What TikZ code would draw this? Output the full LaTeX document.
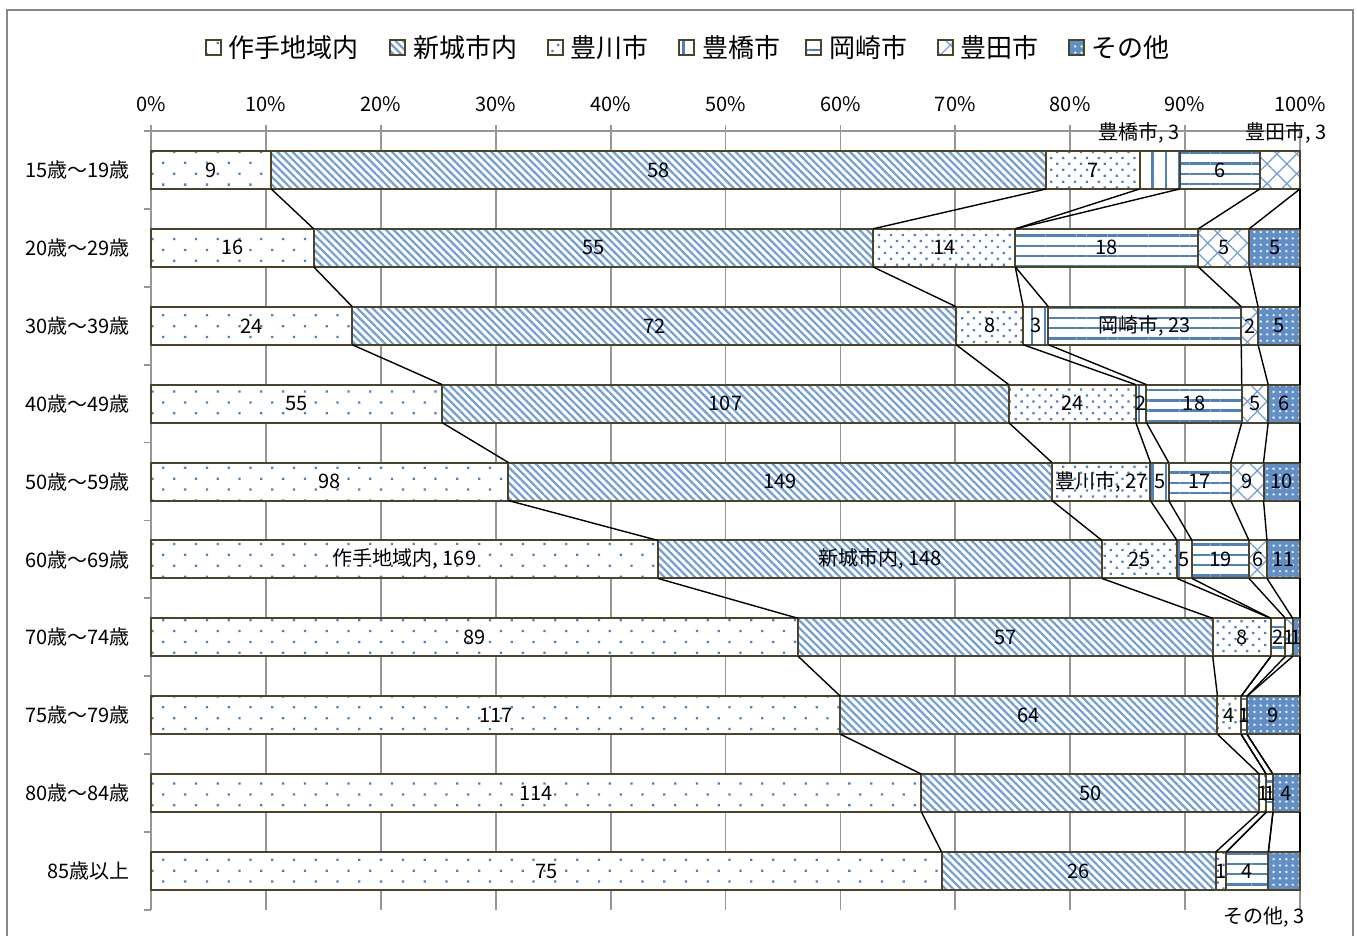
\documentclass[tikz,border=0pt]{standalone}
\usepackage{fontspec}
\setmainfont{Noto Sans CJK JP}
\usetikzlibrary{calc,patterns.meta,positioning}

\definecolor{barblue}{RGB}{79,129,189}
\definecolor{stripeblue}{RGB}{115,158,212}
\definecolor{barline}{RGB}{74,69,42}
\definecolor{gridgray}{RGB}{150,150,150}
\definecolor{framegray}{RGB}{134,134,134}

\newcommand\setlbl[3]{\expandafter\def\csname lbl#1-#2\endcsname{#3}}
\setlbl{1}{4}{}\setlbl{1}{6}{}\setlbl{10}{7}{}
\setlbl{3}{5}{岡崎市, 23}
\setlbl{5}{3}{豊川市, 27}
\setlbl{6}{1}{作手地域内, 169}
\setlbl{6}{2}{新城市内, 148}

\tikzset{
  bar/.style={draw=barline, line width=1pt, preaction={fill=white}},
  cat1/.style={pattern={Dots[angle=45,distance=7.7pt,radius=0.8pt]}, pattern color=barblue},
  cat2/.style={pattern={Lines[angle=-45,distance=2.7pt,line width=1.1pt]}, pattern color=stripeblue},
  cat3/.style={pattern={Dots[angle=45,distance=4.2pt,radius=0.8pt]}, pattern color=barblue},
  cat4/.style={pattern={Lines[angle=90,distance=6.7pt,line width=1.2pt]}, pattern color=barblue},
  cat5/.style={pattern={Lines[distance=5.15pt,line width=1.2pt]}, pattern color=barblue},
  cat6/.style={pattern={Hatch[angle=45,distance=7pt,line width=0.6pt]}, pattern color=stripeblue},
  cat7/.style={preaction={fill=barblue!90}, pattern={Dots[distance=3.2pt,radius=0.7pt]}, pattern color=white!85!barblue},
  dlbl/.style={font=\fontsize{10}{12}\selectfont, inner sep=0pt},
  catlbl/.style={dlbl, anchor=east},
  keybox/.style={bar, minimum size=7.5pt, inner sep=0pt},
  keytxt/.style={font=\fontsize{13}{15}\selectfont, inner sep=0pt},
  serline/.style={black, line width=0.7pt},
  gridline/.style={gridgray, line width=0.9pt}
}

\begin{document}
\begin{tikzpicture}[x=0.5pt,y=-0.5pt]
\useasboundingbox (0,0) rectangle (1357,936);
\draw[framegray, line width=1pt] (7,936) -- (7,10) -- (1353,10) -- (1353,936);

% legend
\foreach \txt/\xk [count=\c] in {作手地域内/213, 新城市内/397, 豊川市/555, 豊橋市/686, 岡崎市/813, 豊田市/945, その他/1076}{
  \node[keybox,cat\c] (k\c) at (\xk,48) {};
  \node[keytxt, right=3.5pt of k\c] (kt\c) {\txt};
}

% axes and grid
\draw[gridline] (144,131) -- (1300,131);
\foreach \p in {0,10,...,100}{
  \draw[gridline] ({151+11.49*\p},125) -- ({151+11.49*\p},910);
  \node[dlbl] (p\p) at ({151+11.49*\p},104) {\p\%};
}
\foreach \k in {0,...,10}
  \draw[gridline] (144,{131+77.9*\k}) -- (151,{131+77.9*\k});

% bars
\foreach \lab/\vals [count=\row] in {
  {15歳～19歳}/{9,58,7,3,6,3,0},
  {20歳～29歳}/{16,55,14,0,18,5,5},
  {30歳～39歳}/{24,72,8,3,23,2,5},
  {40歳～49歳}/{55,107,24,2,18,5,6},
  {50歳～59歳}/{98,149,27,5,17,9,10},
  {60歳～69歳}/{169,148,25,5,19,6,11},
  {70歳～74歳}/{89,57,8,0,2,1,1},
  {75歳～79歳}/{117,64,4,0,1,0,9},
  {80歳～84歳}/{114,50,1,0,1,0,4},
  {85歳以上}/{75,26,1,0,4,0,3}}{
  \pgfmathsetmacro\yc{131+77.9*(\row-0.5)}
  \node[catlbl] (c\row) at (130,\yc) {\lab};
  \gdef\tot{0}
  \foreach \v in \vals {\pgfmathparse{\tot+\v}\xdef\tot{\pgfmathresult}}
  \gdef\cum{0}
  \coordinate (t\row-0) at (151,\yc-19);
  \foreach \v [count=\col] in \vals {
    \pgfmathsetmacro\xa{151+\cum/\tot*1149}
    \pgfmathparse{\cum+\v}\xdef\cum{\pgfmathresult}
    \pgfmathsetmacro\xb{151+\cum/\tot*1149}
    \coordinate (t\row-\col) at (\xb,\yc-19);
    \coordinate (b\row-\col) at (\xb,\yc+19);
    \ifnum\v>0 \draw[bar,cat\col] (\xa,\yc-19) rectangle (\xb,\yc+19); \fi
  }
  \foreach \v [count=\col, evaluate=\col as \prev using int(\col-1)] in \vals {
    \ifcsname lbl\row-\col\endcsname
      \expandafter\let\expandafter\txt\csname lbl\row-\col\endcsname
    \else \let\txt\v \fi
    \ifnum\v>0 \ifx\txt\empty\else
      \node[dlbl] (s\row-\col) at ($(t\row-\prev)!.5!(b\row-\col)$) {\txt};
    \fi\fi
  }
}

% series lines
\foreach \row in {1,...,9}{
  \pgfmathtruncatemacro\n{\row+1}
  \foreach \col in {1,...,7}
    \draw[serline] (b\row-\col) -- (t\n-\col);
}

\node[dlbl, anchor=east] (l1-4) at ([yshift=9pt]t1-4) {豊橋市, 3};
\node[dlbl] (l1-6) at ([xshift=-7pt,yshift=9pt]t1-6) {豊田市, 3};
\node[dlbl, anchor=east] (l10-7) at ([xshift=2.5pt,yshift=-13.5pt]b10-7) {その他, 3};
\end{tikzpicture}
\end{document}
